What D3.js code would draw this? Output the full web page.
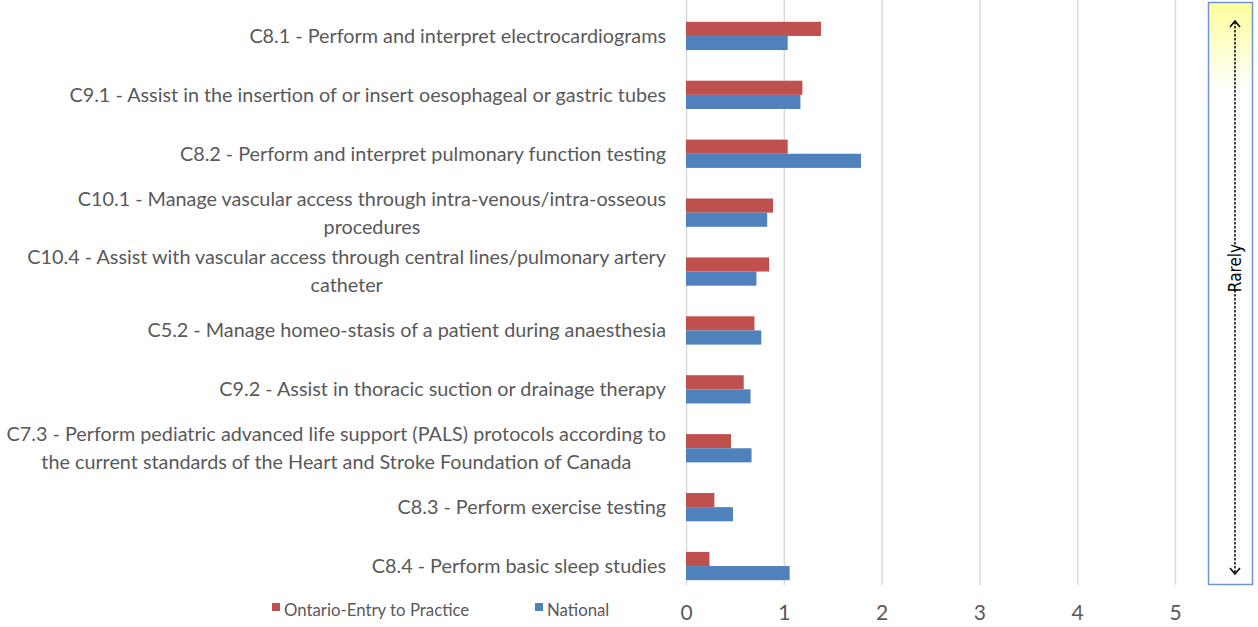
<!DOCTYPE html>
<html>
<head>
<meta charset="utf-8">
<script src="https://cdn.jsdelivr.net/npm/d3@7"></script>
<style>
  body { margin: 0; background: #fff; }
  svg { display: block; }
</style>
</head>
<body>
<svg width="1258" height="627"></svg>
<script>
// categories, top to bottom, each label split into lines
var categories = [
  ["C8.1 - Perform and interpret electrocardiograms"],
  ["C9.1 - Assist in the insertion of or insert oesophageal or gastric tubes"],
  ["C8.2 - Perform and interpret pulmonary function testing"],
  ["C10.1 - Manage vascular access through intra-venous/intra-osseous", "procedures"],
  ["C10.4 - Assist with vascular access through central lines/pulmonary artery", "catheter"],
  ["C5.2 - Manage homeo-stasis of a patient during anaesthesia"],
  ["C9.2 - Assist in thoracic suction or drainage therapy"],
  ["C7.3 - Perform pediatric advanced life support (PALS) protocols according to", "the current standards of the Heart and Stroke Foundation of Canada"],
  ["C8.3 - Perform exercise testing"],
  ["C8.4 - Perform basic sleep studies"]
]
var ontario = [1.38, 1.19, 1.04, 0.89, 0.85, 0.70, 0.59, 0.46, 0.29, 0.24]
var national = [1.04, 1.17, 1.79, 0.83, 0.72, 0.77, 0.66, 0.67, 0.48, 1.06]
var seriesNames = ["Ontario-Entry to Practice", "National"]
var xTicks = [0, 1, 2, 3, 4, 5]

var colors = {"Ontario-Entry to Practice": "#c0504d", "National": "#4f81bd"}
var labelFont = "Lato, 'Open Sans', sans-serif"
var svg = d3.select("svg")

var x = d3.scaleLinear()
  .domain([0, 5])
  .range([686, 1175])

var y = d3.scaleBand()
  .domain(d3.range(categories.length))
  .range([6.5, 595.5])
  .paddingInner(0.52)
  .paddingOuter(0.26)

var ySub = d3.scaleBand()
  .domain(seriesNames)
  .range([0, y.bandwidth()])

var rows = categories.map((c, i) => ({
  i: i,
  lines: c,
  values: [
    {name: seriesNames[0], value: ontario[i]},
    {name: seriesNames[1], value: national[i]}
  ]
}))

// gridlines
svg.append("g")
  .selectAll("line")
  .data(xTicks)
  .enter().append("line")
    .attr("x1", d => x(d) + 0.5)
    .attr("x2", d => x(d) + 0.5)
    .attr("y1", 0)
    .attr("y2", 585)
    .attr("stroke", "#d9d9d9")
    .attr("stroke-width", 1.5)

// bars
var group = svg.append("g")
  .selectAll("g")
  .data(rows)
  .enter().append("g")
    .attr("transform", d => `translate(0,${y(d.i)})`)

group.selectAll("rect")
  .data(d => d.values)
  .enter().append("rect")
    .attr("x", x(0))
    .attr("y", d => ySub(d.name))
    .attr("width", d => x(d.value) - x(0))
    .attr("height", ySub.bandwidth())
    .attr("fill", d => colors[d.name])

// category labels
var labelRight = 666
var labels = svg.append("g")
  .attr("font-family", labelFont)
  .attr("font-size", 19.8)
  .attr("fill", "#595959")
  .selectAll("g")
  .data(rows)
  .enter().append("g")
    .attr("transform", d => `translate(0,${y(d.i) + y.bandwidth() / 2})`)

labels.each(function(d) {
  var g = d3.select(this)
  var n = d.lines.length
  var first = g.append("text")
    .attr("x", labelRight)
    .attr("y", n === 1 ? 0 : -14)
    .attr("dy", "0.35em")
    .attr("text-anchor", "end")
    .text(d.lines[0])
  if (n > 1) {
    var w = first.node().getComputedTextLength()
    g.append("text")
      .attr("x", labelRight - w / 2)
      .attr("y", 14)
      .attr("dy", "0.35em")
      .attr("text-anchor", "middle")
      .text(d.lines[1])
  }
})

// x axis labels
var xAxis = g => g
  .attr("transform", `translate(0,602)`)
  .call(d3.axisBottom(x).tickValues(xTicks).tickSize(0).tickPadding(3).tickFormat(d3.format("d")))
  .call(g => g.select(".domain").remove())
  .call(g => g.selectAll("text")
    .attr("font-family", labelFont)
    .attr("font-size", 21)
    .attr("fill", "#595959"))

svg.append("g").call(xAxis)

// legend
var legendPos = [272, 535]
var legend = svg.append("g")
  .selectAll("g")
  .data(seriesNames)
  .enter().append("g")
    .attr("transform", (d, i) => `translate(${legendPos[i]},603)`)
legend.append("rect")
  .attr("width", 8)
  .attr("height", 8)
  .attr("fill", d => colors[d])
legend.append("text")
  .attr("x", 12)
  .attr("y", 7)
  .attr("dy", "0.35em")
  .attr("font-family", labelFont)
  .attr("font-size", 16.8)
  .attr("fill", "#595959")
  .text(d => d)

// right side frequency box
var defs = svg.append("defs")
var grad = defs.append("linearGradient")
  .attr("id", "yellowFade")
  .attr("x1", 0).attr("y1", 0).attr("x2", 0).attr("y2", 1)
grad.append("stop").attr("offset", "0%").attr("stop-color", "#ffff9c")
grad.append("stop").attr("offset", "15%").attr("stop-color", "#ffffff")
grad.append("stop").attr("offset", "100%").attr("stop-color", "#ffffff")

var box = svg.append("g")
box.append("rect")
  .attr("x", 1208.5)
  .attr("y", 2.5)
  .attr("width", 44)
  .attr("height", 582)
  .attr("fill", "url(#yellowFade)")
  .attr("stroke", "#6f93d3")
  .attr("stroke-width", 1.5)

var ax = 1235, aTop = 22, aBot = 573, textMid = 268
box.append("line")
  .attr("x1", ax).attr("x2", ax)
  .attr("y1", aTop).attr("y2", aBot)
  .attr("stroke", "#000")
  .attr("stroke-width", 1.5)
  .attr("stroke-dasharray", "2.5,1.5")
box.append("rect")
  .attr("x", ax - 9)
  .attr("y", textMid - 22)
  .attr("width", 18)
  .attr("height", 44)
  .attr("fill", "#fff")
box.append("path")
  .attr("d", `M${ax - 5},${aTop + 5}L${ax},${aTop - 1}L${ax + 5},${aTop + 5}M${ax - 5},${aBot - 5}L${ax},${aBot + 1}L${ax + 5},${aBot - 5}`)
  .attr("fill", "none")
  .attr("stroke", "#000")
  .attr("stroke-width", 1.5)
box.append("text")
  .attr("transform", `translate(${ax},${textMid}) rotate(-90)`)
  .attr("text-anchor", "middle")
  .attr("dy", "0.35em")
  .attr("font-family", "'Liberation Sans Narrow', 'DejaVu Sans Condensed', sans-serif")
  .attr("font-size", 17)
  .attr("fill", "#000")
  .text("Rarely")
</script>
</body>
</html>
